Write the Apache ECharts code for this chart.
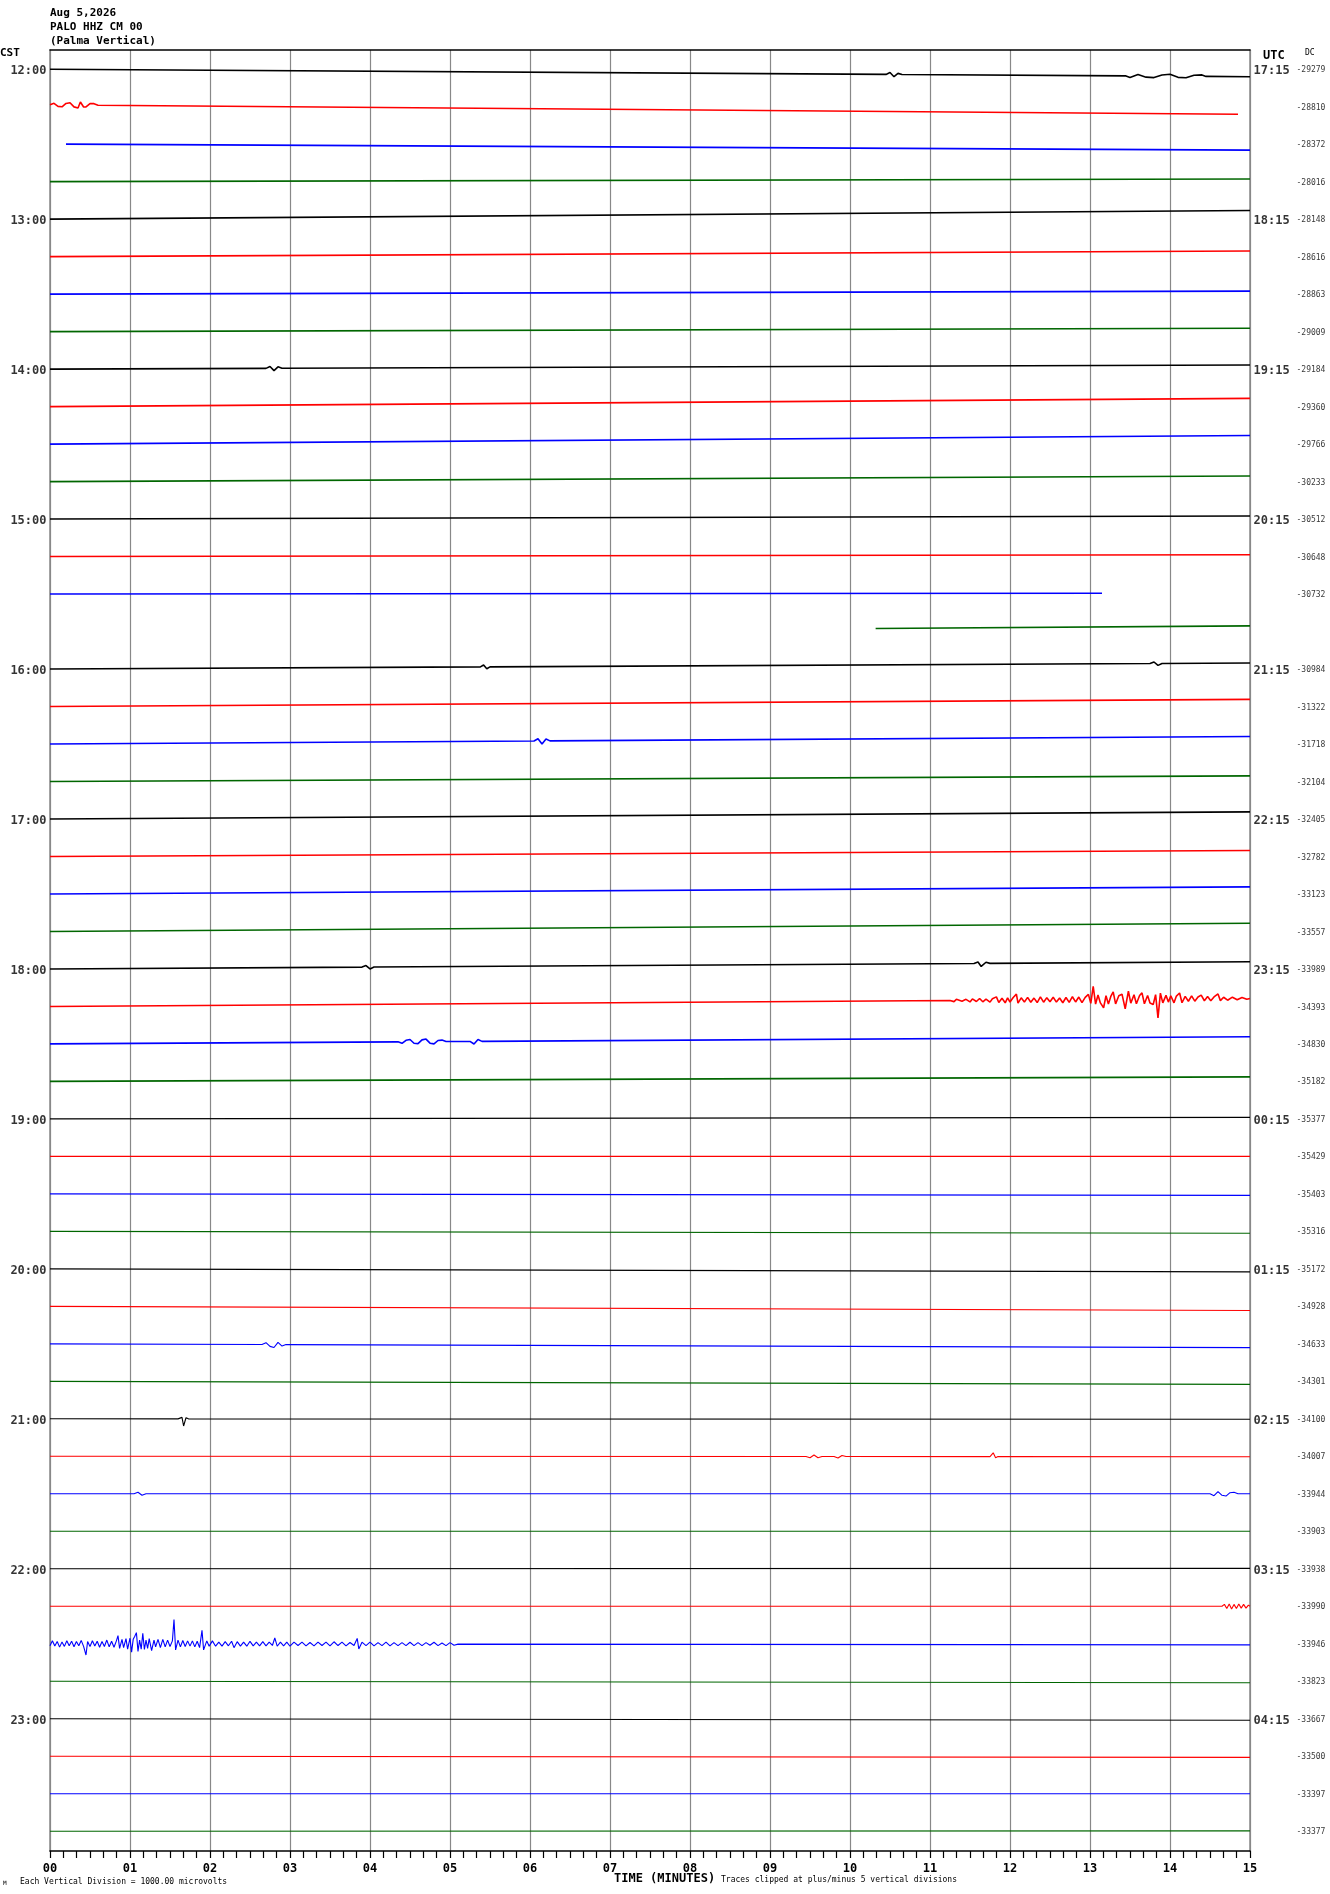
<!DOCTYPE html>
<html><head><meta charset="utf-8">
<script src="https://cdn.jsdelivr.net/npm/echarts@6/dist/echarts.min.js"></script>
<style>html,body{margin:0;padding:0;background:#fff}#c{width:1330px;height:1894px}</style>
</head><body><div id="c"></div><script>
// ---------- data ----------
const cstHours = ['12:00','13:00','14:00','15:00','16:00','17:00','18:00','19:00','20:00','21:00','22:00','23:00'];
const utcHours = ['17:15','18:15','19:15','20:15','21:15','22:15','23:15','00:15','01:15','02:15','03:15','04:15'];
const dcValues = [-29279,-28810,-28372,-28016,-28148,-28616,-28863,-29009,-29184,-29360,-29766,-30233,
  -30512,-30648,-30732,null,-30984,-31322,-31718,-32104,-32405,-32782,-33123,-33557,
  -33989,-34393,-34830,-35182,-35377,-35429,-35403,-35316,-35172,-34928,-34633,-34301,
  -34100,-34007,-33944,-33903,-33938,-33990,-33946,-33823,-33667,-33500,-33397,-33377];
// start / end minute of each 15-minute trace
const traceStartMin = [0,0,0.2,0,0,0,0,0,0,0,0,0, 0,0,0,10.32,0,0,0,0,0,0,0,0,
  0,0,0,0,0,0,0,0,0,0,0,0, 0,0,0,0,0,0,0,0,0,0,0,0];
const traceEndMin = [15,14.85,15,15,15,15,15,15,15,15,15,15, 15,15,13.15,15,15,15,15,15,15,15,15,15,
  15,15,15,15,15,15,15,15,15,15,15,15, 15,15,15,15,15,15,15,15,15,15,15,15];
// baseline drift (fraction of trace spacing) at the start and end of each trace
const driftStart = [0,-0.05,0,0,0,0,0,0,0,0,0,0, 0,0,0,-0.08,0,0,0,0,0,0,0,0,
  0,0,0,0,0,0,0,0,0,0,0,0, 0,0,0,0,0,0,0,0,0,0,0,0];
const driftEnd = [0.20,0.20,0.16,-0.07,-0.23,-0.15,-0.08,-0.09,-0.11,-0.22,-0.23,-0.15,
  -0.08,-0.05,-0.02,-0.15,-0.16,-0.19,-0.20,-0.15,-0.19,-0.16,-0.19,-0.22,
  -0.19,-0.21,-0.19,-0.12,-0.04,0,0.04,0.05,0.08,0.11,0.10,0.08,
  0.01,0.01,0,0,-0.01,0,0.03,0.04,0.04,0.03,0,-0.01];
// event deflections [minute, deflection in trace spacings]
const ev1200 = [[10.45,0],[10.5,-0.05],[10.55,0.06],[10.6,-0.03],[10.65,0],[13.45,0],[13.5,0.04],[13.6,-0.04],[13.7,0.03],
  [13.8,0.04],[13.9,-0.03],[14.0,-0.05],[14.1,0.03],[14.2,0.04],[14.3,-0.03],[14.4,-0.04],[14.45,0]];
const ev1215 = [[0.05,-0.04],[0.1,0.04],[0.15,0.05],[0.2,-0.04],[0.25,-0.06],[0.3,0.05],[0.35,0.08],[0.38,-0.08],
  [0.42,0.05],[0.45,0.05],[0.5,-0.04],[0.55,-0.04],[0.6,0]];
const ev1400 = [[2.7,0],[2.75,-0.05],[2.8,0.06],[2.85,-0.04],[2.9,0]];
const ev1600 = [[5.38,0],[5.42,-0.05],[5.46,0.05],[5.5,0],[13.75,0],[13.8,-0.04],[13.85,0.05],[13.9,0]];
const ev1630 = [[6.05,0],[6.1,-0.06],[6.15,0.08],[6.2,-0.05],[6.25,0]];
const ev1800 = [[3.9,0],[3.95,-0.04],[4.0,0.05],[4.05,0],[11.55,0],[11.6,-0.04],[11.64,0.08],[11.7,-0.03],[11.75,0]];
const ev1815 = [[11.25,0],[11.3,0.03],[11.33,-0.03],[11.4,0.02],[11.45,-0.03],[11.5,0.04],[11.53,-0.04],[11.58,0.03],
  [11.62,-0.05],[11.66,0.04],[11.7,-0.03],[11.75,0.05],[11.78,-0.04],[11.83,-0.09],[11.86,0.06],[11.9,-0.05],[11.94,0.07],
  [11.97,-0.06],[12.0,0.05],[12.04,-0.07],[12.08,-0.16],[12.1,0.08],[12.14,-0.06],[12.18,0.05],[12.22,-0.07],[12.26,0.06],
  [12.3,-0.05],[12.34,0.07],[12.38,-0.08],[12.42,0.06],[12.46,-0.06],[12.5,0.05],[12.54,-0.07],[12.58,0.06],[12.62,-0.05],
  [12.66,0.08],[12.7,-0.06],[12.74,0.07],[12.78,-0.08],[12.82,0.06],[12.86,-0.07],[12.9,0.08],[12.94,-0.06],[12.98,-0.14],
  [13.01,0.1],[13.04,-0.35],[13.07,0.12],[13.1,-0.12],[13.13,0.09],[13.17,0.22],[13.2,-0.1],[13.23,0.12],[13.26,-0.08],
  [13.29,-0.2],[13.32,0.12],[13.36,-0.1],[13.4,-0.14],[13.44,0.25],[13.48,-0.22],[13.51,0.1],[13.55,-0.12],[13.58,0.12],
  [13.62,-0.1],[13.65,-0.17],[13.68,0.12],[13.72,-0.1],[13.75,0.1],[13.79,0.14],[13.82,-0.12],[13.85,0.5],[13.88,-0.16],
  [13.91,0.1],[13.95,-0.1],[13.98,0.08],[14.01,-0.09],[14.05,0.1],[14.08,-0.08],[14.12,-0.16],[14.15,0.1],[14.19,-0.07],
  [14.23,0.06],[14.27,-0.08],[14.31,0.06],[14.35,-0.05],[14.39,-0.1],[14.43,0.05],[14.47,-0.06],[14.51,0.05],[14.55,-0.05],
  [14.6,-0.13],[14.63,0.05],[14.67,-0.04],[14.72,0.04],[14.78,-0.04],[14.84,0.03],[14.9,-0.03],[14.96,0.02]];
const ev1830 = [[4.35,0],[4.4,0.04],[4.45,-0.04],[4.5,-0.06],[4.55,0.04],[4.6,0.05],[4.65,-0.05],[4.7,-0.07],[4.75,0.04],
  [4.8,0.06],[4.85,-0.03],[4.9,-0.04],[4.95,0],[5.25,0],[5.3,0.07],[5.35,-0.05],[5.4,0]];
const ev2030 = [[2.65,0],[2.7,-0.05],[2.75,0.05],[2.8,0.08],[2.85,-0.06],[2.9,0.04],[2.95,0]];
const ev2100 = [[1.6,0],[1.65,-0.04],[1.67,0.19],[1.7,-0.03],[1.73,0]];
const ev2115 = [[9.45,0],[9.5,0.03],[9.55,-0.04],[9.6,0.03],[9.65,0],[9.8,0],[9.85,0.04],[9.9,-0.03],[9.95,0],
  [11.75,0],[11.79,-0.1],[11.82,0.03],[11.85,0]];
const ev2130 = [[1.05,0],[1.1,-0.04],[1.15,0.04],[1.2,0],[14.5,0],[14.55,0.05],[14.6,-0.06],[14.65,0.04],[14.7,0.06],
  [14.75,-0.03],[14.8,-0.04],[14.85,0]];
const ev2215 = [[14.65,0],[14.68,-0.05],[14.71,0.06],[14.74,-0.06],[14.77,0.07],[14.8,-0.05],[14.83,0.06],[14.86,-0.06],
  [14.89,0.05],[14.92,-0.05],[14.95,0.05],[14.98,-0.03]];
const ev2230 = [[0.00,0.05],[0.03,-0.08],[0.06,0.06],[0.09,-0.06],[0.12,0.09],[0.15,-0.05],[0.18,0.07],[0.21,-0.08],
  [0.24,0.05],[0.27,-0.07],[0.3,0.08],[0.33,-0.06],[0.36,0.05],[0.39,-0.09],[0.42,0.07],[0.45,0.30],[0.47,-0.06],[0.5,0.07],
  [0.53,-0.08],[0.56,0.06],[0.59,-0.07],[0.62,0.09],[0.65,-0.06],[0.68,0.07],[0.71,-0.1],[0.74,0.08],[0.77,-0.07],[0.8,0.09],
  [0.83,-0.08],[0.85,-0.22],[0.87,0.12],[0.9,-0.12],[0.92,0.1],[0.95,-0.14],[0.97,0.14],[1.0,-0.15],[1.02,0.22],[1.04,-0.12],
  [1.06,-0.2],[1.08,-0.3],[1.1,0.2],[1.12,-0.1],[1.14,0.14],[1.16,-0.28],[1.18,0.15],[1.2,-0.1],[1.22,0.12],[1.24,-0.14],
  [1.27,0.18],[1.3,-0.1],[1.32,0.08],[1.35,-0.12],[1.38,0.1],[1.41,-0.12],[1.44,0.08],[1.47,-0.1],[1.5,0.07],[1.53,-0.08],
  [1.55,-0.65],[1.57,0.16],[1.6,-0.1],[1.63,0.08],[1.66,-0.09],[1.69,0.07],[1.72,-0.08],[1.75,0.06],[1.78,-0.08],[1.81,0.08],
  [1.84,-0.07],[1.87,0.1],[1.9,-0.36],[1.92,0.16],[1.94,0.18],[1.96,-0.08],[1.99,0.06],[2.03,-0.08],[2.07,0.06],[2.11,-0.05],
  [2.15,0.06],[2.19,-0.06],[2.23,0.05],[2.27,-0.07],[2.3,0.1],[2.34,-0.06],[2.38,0.06],[2.42,-0.05],[2.46,0.06],[2.5,-0.07],
  [2.54,0.05],[2.58,-0.05],[2.62,0.05],[2.66,-0.06],[2.7,0.05],[2.74,-0.05],[2.78,0.04],[2.81,-0.16],[2.84,0.06],[2.88,-0.05],
  [2.92,0.05],[2.96,-0.05],[3.0,0.06],[3.05,-0.05],[3.1,0.04],[3.15,-0.05],[3.2,0.05],[3.25,-0.04],[3.3,0.05],[3.35,-0.05],
  [3.4,0.04],[3.45,-0.05],[3.5,0.05],[3.55,-0.06],[3.6,0.04],[3.65,-0.05],[3.7,0.05],[3.75,-0.04],[3.8,0.04],[3.84,-0.15],
  [3.86,0.13],[3.9,-0.05],[3.95,0.04],[4.0,-0.05],[4.05,0.05],[4.1,-0.04],[4.15,0.04],[4.2,-0.05],[4.25,0.05],[4.3,-0.04],
  [4.35,0.04],[4.4,-0.04],[4.45,0.04],[4.5,-0.05],[4.55,0.04],[4.6,-0.04],[4.65,0.04],[4.7,-0.04],[4.75,0.03],[4.8,-0.05],
  [4.85,0.04],[4.9,-0.03],[4.95,0.04],[5.0,-0.04],[5.05,0.03],[5.1,0]];
const traceEvents = {0:ev1200,1:ev1215,8:ev1400,16:ev1600,18:ev1630,24:ev1800,25:ev1815,26:ev1830,
  34:ev2030,36:ev2100,37:ev2115,38:ev2130,41:ev2215,42:ev2230};

// ---------- chart ----------
const colors = ['#000000','#ff0000','#0000ff','#006600'];
const FONT = 'DejaVu Sans Mono';
const series = [];
for (let i = 0; i < dcValues.length; i++) {
  const s = traceStartMin[i], e = traceEndMin[i];
  const d = t => driftStart[i] + (driftEnd[i] - driftStart[i]) * (t - s) / (e - s);
  const pts = [[s, i + d(s)]];
  (traceEvents[i] || []).forEach(([t, a]) => {
    if (t > s && t < e) pts.push([t, i + d(t) + a]);
    else if (t === s) pts[0] = [t, i + d(t) + a];
  });
  pts.push([e, i + d(e)]);
  series.push({
    type: 'line', data: pts, showSymbol: false, silent: true, animation: false,
    xAxisIndex: 0, yAxisIndex: 0,
    lineStyle: { color: colors[i % 4], width: i < 28 ? 1.6 : 1.1 }
  });
}
const textScatter = (data, pos, dist, font, weight, dy) => ({
  type: 'scatter', symbolSize: 1, itemStyle: { color: 'rgba(0,0,0,0)' }, silent: true, clip: false, animation: false,
  xAxisIndex: 0, yAxisIndex: 0, data: data,
  label: { show: true, position: pos, distance: dist, offset: [0, dy], formatter: p => p.value[2], color: '#000',
    fontFamily: FONT, fontWeight: weight, fontSize: font }
});
series.push(textScatter(cstHours.map((v, k) => [0, k * 4, v]), 'left', 3, 12, 'bold', 2));
series.push(textScatter(utcHours.map((v, k) => [15, k * 4, v]), 'right', 3, 12, 'bold', 2));
series.push(textScatter(dcValues.map((v, k) => v === null ? null : [15, k, String(v)]).filter(x => x), 'right', 46, 8, 'normal', 1));

const chart = echarts.init(document.getElementById('c'), null, { renderer: 'canvas' });
chart.setOption({
  backgroundColor: '#fff',
  animation: false,
  grid: { left: 50, top: 50, width: 1200, height: 1801 },
  xAxis: [{
    type: 'value', min: 0, max: 15, interval: 1, position: 'bottom',
    axisLine: { show: true, onZero: false, lineStyle: { color: '#000', width: 1.5 } },
    axisTick: { show: true, length: 7, lineStyle: { color: '#000', width: 1.2 } },
    minorTick: { show: true, splitNumber: 6, length: 7, lineStyle: { color: '#000', width: 1.2 } },
    splitLine: { show: true, lineStyle: { color: '#888', width: 1.2 } },
    axisLabel: { margin: 12, color: '#000', fontFamily: FONT, fontWeight: 'bold', fontSize: 12,
      formatter: v => (v < 10 ? '0' : '') + v }
  }, {
    type: 'value', min: 0, max: 15, interval: 1, position: 'top',
    axisLine: { show: true, onZero: false, lineStyle: { color: '#000', width: 1.5 } },
    axisTick: { show: false }, minorTick: { show: false }, axisLabel: { show: false }, splitLine: { show: false }
  }],
  yAxis: [{
    type: 'value', inverse: true, min: -0.512, max: 47.528, position: 'left',
    axisLine: { show: true, onZero: false, lineStyle: { color: '#888', width: 1.5 } },
    axisTick: { show: false }, axisLabel: { show: false }, splitLine: { show: false }
  }, {
    type: 'value', inverse: true, min: -0.512, max: 47.528, position: 'right',
    axisLine: { show: true, onZero: false, lineStyle: { color: '#888', width: 1.5 } },
    axisTick: { show: false }, axisLabel: { show: false }, splitLine: { show: false }
  }],
  graphic: [
    { type: 'text', left: 50, top: 6, style: { text: 'Aug 5,2026\nPALO HHZ CM 00\n(Palma Vertical)', lineHeight: 14, fill: '#000', font: 'bold 11px "DejaVu Sans Mono"' } },
    { type: 'text', left: 0, top: 48, style: { text: 'CST', fill: '#000', font: 'bold 11px "DejaVu Sans Mono"' } },
    { type: 'text', left: 1263, top: 50, style: { text: 'UTC', fill: '#000', font: 'bold 12px "DejaVu Sans Mono"' } },
    { type: 'text', left: 1305, top: 49, style: { text: 'DC', fill: '#000', font: '8px "DejaVu Sans Mono"' } },
    { type: 'text', left: 3, top: 1880, style: { text: 'M', fill: '#000', font: '6px "DejaVu Sans Mono"' } },
    { type: 'text', left: 20, top: 1878, style: { text: 'Each Vertical Division = 1000.00 microvolts', fill: '#000', font: '8px "DejaVu Sans Mono"' } },
    { type: 'text', left: 614, top: 1873, style: { text: 'TIME (MINUTES)', fill: '#000', font: 'bold 12px "DejaVu Sans Mono"' } },
    { type: 'text', left: 721, top: 1876, style: { text: 'Traces clipped at plus/minus 5 vertical divisions', fill: '#000', font: '8px "DejaVu Sans Mono"' } }
  ],
  series: series
});
</script></body></html>
